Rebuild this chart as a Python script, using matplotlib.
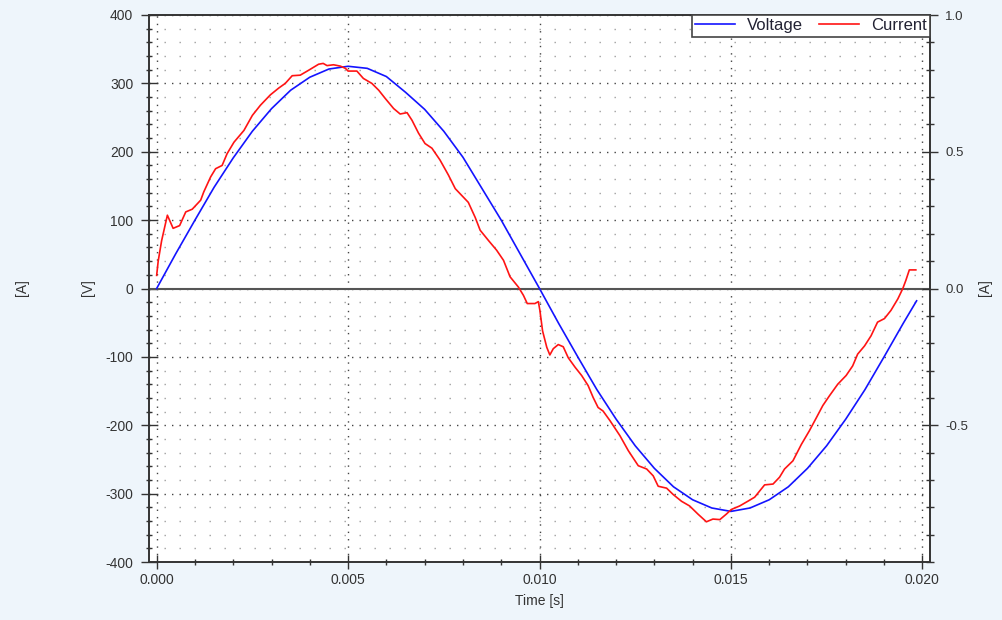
import matplotlib
matplotlib.use("Agg")
import matplotlib.pyplot as plt
from matplotlib.ticker import MultipleLocator, FixedLocator, FormatStrFormatter
from matplotlib.lines import Line2D

# ---- data ----
t_voltage = [0.0000, 0.0005, 0.0010, 0.0015, 0.0020, 0.0025, 0.0030, 0.0035, 0.0040, 0.0045,
             0.0050, 0.0055, 0.0060, 0.0065, 0.0070, 0.0075, 0.0080, 0.0085, 0.0090, 0.0095,
             0.0100, 0.0105, 0.0110, 0.0115, 0.0120, 0.0125, 0.0130, 0.0135, 0.0140, 0.0145,
             0.0150, 0.0155, 0.0160, 0.0165, 0.0170, 0.0175, 0.0180, 0.0185, 0.0190, 0.0195,
             0.01985]
voltage = [0, 51, 100, 148, 191, 230, 263, 290, 309, 321,
           325, 322, 310, 287, 262, 230, 192, 146, 100, 50,
           0, -51, -100, -148, -191, -230, -263, -290, -309, -321,
           -326, -321, -309, -290, -263, -230, -191, -148, -100, -51,
           -18]

t_current = [0.00000, 0.00004, 0.00013, 0.00028, 0.00043, 0.00060, 0.00076, 0.00093, 0.00115, 0.00123,
             0.00141, 0.00154, 0.00171, 0.00184, 0.00202, 0.00228, 0.00250, 0.00271, 0.00297, 0.00319,
             0.00336, 0.00354, 0.00375, 0.00397, 0.00423, 0.00435, 0.00445, 0.00462, 0.00480, 0.00493,
             0.00500, 0.00523, 0.00540, 0.00562, 0.00580, 0.00597, 0.00619, 0.00636, 0.00654, 0.00667,
             0.00684, 0.00701, 0.00719, 0.00740, 0.00762, 0.00780, 0.00797, 0.00814, 0.00832, 0.00845,
             0.00867, 0.00888, 0.00906, 0.00923, 0.00945, 0.00958, 0.00968, 0.00988, 0.00997, 0.01001,
             0.01008, 0.01019, 0.01027, 0.01036, 0.01049, 0.01062, 0.01075, 0.01093, 0.01110, 0.01127,
             0.01140, 0.01153, 0.01166, 0.01184, 0.01210, 0.01232, 0.01258, 0.01280, 0.01297, 0.01310,
             0.01332, 0.01349, 0.01371, 0.01392, 0.01414, 0.01436, 0.01453, 0.01471, 0.01488, 0.01501,
             0.01523, 0.01544, 0.01562, 0.01588, 0.01610, 0.01627, 0.01640, 0.01662, 0.01684, 0.01705,
             0.01723, 0.01740, 0.01757, 0.01779, 0.01801, 0.01818, 0.01831, 0.01849, 0.01866, 0.01883,
             0.01901, 0.01918, 0.01936, 0.01949, 0.01957, 0.01966, 0.01983]
current = [0.048, 0.100, 0.175, 0.268, 0.220, 0.230, 0.280, 0.290, 0.323, 0.353,
           0.408, 0.438, 0.450, 0.493, 0.535, 0.578, 0.633, 0.670, 0.708, 0.733,
           0.750, 0.778, 0.780, 0.798, 0.820, 0.823, 0.815, 0.818, 0.813, 0.805,
           0.795, 0.795, 0.768, 0.750, 0.725, 0.695, 0.658, 0.638, 0.643, 0.615,
           0.568, 0.530, 0.513, 0.470, 0.415, 0.365, 0.340, 0.315, 0.260, 0.213,
           0.175, 0.140, 0.103, 0.043, 0.005, -0.025, -0.055, -0.055, -0.048, -0.080,
           -0.155, -0.215, -0.243, -0.220, -0.205, -0.213, -0.253, -0.288, -0.318, -0.355,
           -0.398, -0.435, -0.448, -0.483, -0.538, -0.593, -0.648, -0.660, -0.685, -0.723,
           -0.730, -0.753, -0.778, -0.795, -0.825, -0.853, -0.843, -0.845, -0.825, -0.808,
           -0.795, -0.778, -0.763, -0.718, -0.715, -0.690, -0.660, -0.630, -0.570, -0.520,
           -0.473, -0.428, -0.393, -0.350, -0.318, -0.283, -0.240, -0.210, -0.173, -0.123,
           -0.110, -0.080, -0.038, 0.000, 0.030, 0.068, 0.068]

x_ticks = [0.000, 0.005, 0.010, 0.015, 0.020]
v_ticks = [-400, -300, -200, -100, 0, 100, 200, 300, 400]
a_ticks = [-0.5, 0.0, 0.5, 1.0]
series_names = ["Voltage", "Current"]

# ---- style ----
plt.rcParams['font.family'] = ['Liberation Sans', 'DejaVu Sans']
plt.rcParams['lines.scale_dashes'] = False
plt.rcParams['axes.unicode_minus'] = False
SPINE = '#333333'
TXT = '#333333'
BLUE = '#1414ff'
RED = '#ff1414'

fig = plt.figure(figsize=(10.03, 6.2), dpi=100, facecolor='#eef5fb')
ax = fig.add_axes([149/1003, 1-562/620, 781/1003, 547/620])
ax.set_facecolor('white')
ax.set_xlim(-0.0002, 0.0202)
ax.set_ylim(-400, 400)

ax.xaxis.set_major_locator(FixedLocator(x_ticks))
ax.xaxis.set_major_formatter(FormatStrFormatter('%.3f'))
ax.xaxis.set_minor_locator(MultipleLocator(0.001))
ax.yaxis.set_major_locator(FixedLocator(v_ticks))
ax.yaxis.set_minor_locator(MultipleLocator(20))

for s in ax.spines.values():
    s.set_color(SPINE)
    s.set_linewidth(1.2)

ax.tick_params(axis='y', which='major', direction='inout', length=11.5, width=1.0,
               color=SPINE, labelsize=10, labelcolor=TXT, pad=5.5)
ax.tick_params(axis='y', which='minor', direction='inout', length=5, width=1.0, color=SPINE)
ax.tick_params(axis='x', which='major', direction='inout', length=9.5, width=1.0,
               color=SPINE, labelsize=10, labelcolor=TXT, pad=3.5)
ax.tick_params(axis='x', which='minor', direction='inout', length=4.5, width=1.0, color=SPINE)

# grid
ax.grid(which='major', axis='x', color='#444444', linewidth=1.0, linestyle=(0, (1.0, 4.3)))
ax.grid(which='major', axis='y', color='#444444', linewidth=1.0, linestyle=(0, (1.0, 4.4)))
ax.grid(which='minor', axis='y', color='#a0a0a0', linewidth=1.0, linestyle=(0, (1.0, 9.8)))
ax.axhline(0, color='#555555', linewidth=1.5, zorder=1.5)
ax.set_axisbelow(True)

ax.plot(t_voltage, voltage, color=BLUE, linewidth=1.2, zorder=3)
ax.set_xlabel('Time [s]', fontsize=10, color=TXT, labelpad=5)

ax2 = ax.twinx()
ax2.set_ylim(-1.0, 1.0)
ax2.yaxis.set_major_locator(FixedLocator(a_ticks))
ax2.yaxis.set_major_formatter(FormatStrFormatter('%.1f'))
ax2.yaxis.set_minor_locator(MultipleLocator(0.1))
for s in ax2.spines.values():
    s.set_color(SPINE)
    s.set_linewidth(1.2)
ax2.tick_params(axis='y', which='major', direction='inout', length=11, width=1.0,
                color=SPINE, labelsize=9.5, labelcolor=TXT, pad=5.5)
ax2.tick_params(axis='y', which='minor', direction='inout', length=6, width=1.0, color=SPINE)
ax2.plot(t_current, current, color=RED, linewidth=1.2, zorder=3)

handles = [Line2D([], [], color=BLUE, linewidth=1.2),
           Line2D([], [], color=RED, linewidth=1.2)]
leg = ax2.legend(handles, series_names, loc='upper right', ncol=2, fontsize=12,
                 frameon=True, fancybox=False, framealpha=1, edgecolor='#444444',
                 borderaxespad=0, borderpad=0.2, handlelength=2.4, handletextpad=0.7,
                 columnspacing=1.0, labelcolor='#222233')
leg.get_frame().set_linewidth(1.2)

fig.text(88/1003, 1-288/620, '[V]', rotation=90, ha='center', va='center', fontsize=10, color=TXT)
fig.text(22/1003, 1-288/620, '[A]', rotation=90, ha='center', va='center', fontsize=10, color=TXT)
fig.text(985/1003, 1-288/620, '[A]', rotation=90, ha='center', va='center', fontsize=10, color=TXT)

fig.savefig('out.png', dpi=100, facecolor=fig.get_facecolor())
